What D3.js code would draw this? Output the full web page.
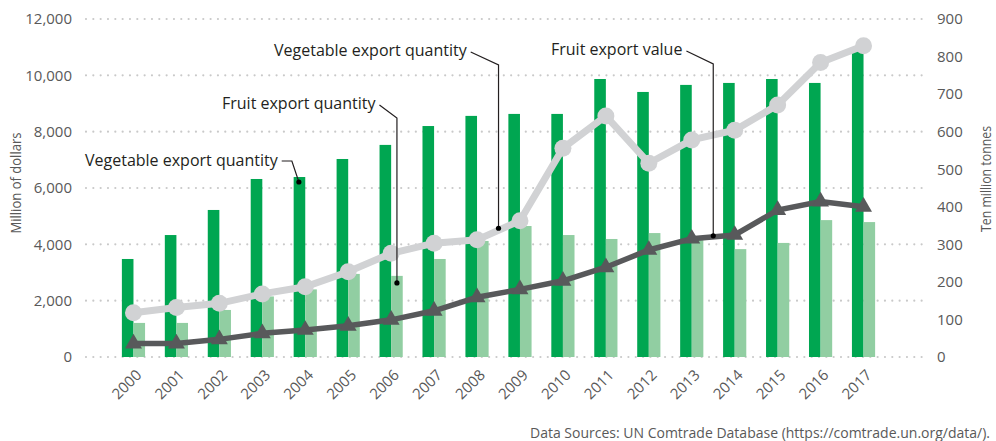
<html>
<head>
<meta charset="UTF-8" />
<style>
body { margin: 0; background: #fff; }
text { font-family: "Open Sans", sans-serif; }
</style>
</head>
<body>
<script src="https://cdn.jsdelivr.net/npm/d3@7"></script>
<script>
var width = 996;
var height = 441;

// data
var years = ["2000","2001","2002","2003","2004","2005","2006","2007","2008","2009",
             "2010","2011","2012","2013","2014","2015","2016","2017"];
var darkBars = [3480,4330,5220,6320,6390,7030,7530,8200,8560,8630,
                8630,9870,9410,9660,9730,9870,9730,10950];
var lightBars = [1210,1210,1670,2150,2400,2950,2880,3480,4120,4650,
                 4330,4190,4400,4150,3830,4050,4860,4790];
var grayLine = [118,132,143,168,187,227,276,303,312,363,
                556,642,516,578,604,671,784,829];
var darkLine = [36,36,47,63,72,83,99,123,159,180,
                203,239,285,315,325,391,414,400];
var leftTicks = [0,2000,4000,6000,8000,10000,12000];
var rightTicks = [0,100,200,300,400,500,600,700,800,900];

var notes = [
	{text:"Vegetable export quantity", year:"2004", series:"dark", tx:85, ty:160},
	{text:"Fruit export quantity", year:"2006", series:"light", tx:222, ty:103},
	{text:"Vegetable export quantity", year:"2008", series:"gray", tx:274, ty:50},
	{text:"Fruit export value", year:"2013", series:"line", tx:551, ty:49}
];

var svg = d3.select("body")
			.append("svg")
			.attr("width",width)
			.attr("height",height);

var x = d3.scaleBand()
		  .domain(years)
		  .range([112,885])
		  .paddingInner(0.46)
		  .paddingOuter(0.23);

var yLeft = d3.scaleLinear().domain([0,12000]).range([357,19]);
var yRight = d3.scaleLinear().domain([0,900]).range([357,19]);

var bw = x.bandwidth()/2;
var cx = d => x(d) + x.bandwidth()/2;

// dotted grid
svg.append("g")
   .selectAll("line")
   .data(leftTicks)
   .enter()
   .append("line")
   .attr("x1",86)
   .attr("x2",922)
   .attr("y1",d => yLeft(d))
   .attr("y2",d => yLeft(d))
   .attr("stroke","#c9c9c9")
   .attr("stroke-width",2.2)
   .attr("stroke-linecap","round")
   .attr("stroke-dasharray","0,7.33");

// left axis
var axL = svg.append("g")
			 .attr("transform","translate(72,0)")
			 .call(d3.axisLeft(yLeft).tickValues(leftTicks).tickSize(0).tickPadding(0).tickFormat(d3.format(",")));
axL.select(".domain").remove();
axL.selectAll("text").attr("font-size",15).attr("fill","#595959").attr("font-family","Open Sans");

// right axis
var axR = svg.append("g")
			 .attr("transform","translate(937,0)")
			 .call(d3.axisRight(yRight).tickValues(rightTicks).tickSize(0).tickPadding(0));
axR.select(".domain").remove();
axR.selectAll("text").attr("font-size",15).attr("fill","#595959").attr("font-family","Open Sans");

// x axis
var axX = svg.append("g")
			 .attr("transform","translate(0,361)")
			 .call(d3.axisBottom(x).tickSize(0).tickPadding(0));
axX.select(".domain").remove();
axX.selectAll("text")
   .attr("font-size",15)
   .attr("fill","#595959")
   .attr("font-family","Open Sans")
   .attr("text-anchor","end")
   .attr("dy",0)
   .attr("transform","translate(9,15) rotate(-45)");

// axis titles
svg.append("text")
   .attr("transform","translate(21,183) rotate(-90)")
   .attr("text-anchor","middle")
   .attr("font-size",14)
   .attr("textLength",101)
   .attr("lengthAdjust","spacingAndGlyphs")
   .attr("fill","#595959")
   .text("Million of dollars");

svg.append("text")
   .attr("transform","translate(991,179) rotate(-90)")
   .attr("text-anchor","middle")
   .attr("font-size",14)
   .attr("textLength",106)
   .attr("lengthAdjust","spacingAndGlyphs")
   .attr("fill","#595959")
   .text("Ten million tonnes");

// bars
svg.append("g")
   .selectAll("rect")
   .data(years)
   .enter()
   .append("rect")
   .attr("x",d => x(d))
   .attr("width",bw)
   .attr("y",(d,i) => yLeft(darkBars[i]))
   .attr("height",(d,i) => yLeft(0) - yLeft(darkBars[i]))
   .attr("fill","#00a651");

svg.append("g")
   .selectAll("rect")
   .data(years)
   .enter()
   .append("rect")
   .attr("x",d => x(d) + bw)
   .attr("width",bw)
   .attr("y",(d,i) => yLeft(lightBars[i]))
   .attr("height",(d,i) => yLeft(0) - yLeft(lightBars[i]))
   .attr("fill","#91cea2");

// light gray line with circles
var lineGen = d3.line()
				.x((d,i) => cx(years[i]))
				.y(d => yRight(d));

svg.append("path")
   .attr("d",lineGen(grayLine))
   .attr("fill","none")
   .attr("stroke","#d1d2d4")
   .attr("stroke-width",7);

svg.append("g")
   .selectAll("circle")
   .data(grayLine)
   .enter()
   .append("circle")
   .attr("cx",(d,i) => cx(years[i]))
   .attr("cy",d => yRight(d))
   .attr("r",8.5)
   .attr("fill","#d1d2d4");

// dark gray line with triangles
svg.append("path")
   .attr("d",lineGen(darkLine))
   .attr("fill","none")
   .attr("stroke","#58595b")
   .attr("stroke-width",5.5);

svg.append("g")
   .selectAll("path")
   .data(darkLine)
   .enter()
   .append("path")
   .attr("d",d3.symbol().type(d3.symbolTriangle).size(125))
   .attr("transform",(d,i) => "translate(" + cx(years[i]) + "," + yRight(d) + ")")
   .attr("fill","#58595b");

// annotations
function target(n){
	var i = years.indexOf(n.year);
	if(n.series == "dark") return [x(n.year) + bw*0.45, yLeft(darkBars[i]) + 5];
	if(n.series == "light") return [x(n.year) + bw*1.5, yLeft(lightBars[i]) + 7];
	if(n.series == "gray") return [cx(n.year) + 21.5, yRight((grayLine[i] + grayLine[i+1])/2) - 2];
	return [cx(n.year) + 21.5, yRight((darkLine[i] + darkLine[i+1])/2) - 1];
}

var ann = svg.append("g");
notes.forEach(function(n){
	var t = ann.append("text")
			   .attr("x",n.tx)
			   .attr("y",n.ty)
			   .attr("dy","0.35em")
			   .attr("font-size",16)
			   .attr("fill","#231f20")
			   .text(n.text);
	var w = t.node().getComputedTextLength();
	var p = target(n);
	var sx = n.tx + w + 4;
	var pts;
	if(n.series == "dark")
		pts = [[sx,n.ty+1],[p[0]-7,n.ty+1],p];
	else
		pts = [[sx,n.ty+2],[p[0],n.ty+15],p];
	ann.append("path")
	   .attr("d",d3.line()(pts))
	   .attr("fill","none")
	   .attr("stroke","#231f20")
	   .attr("stroke-width",1.2);
	ann.append("circle")
	   .attr("cx",p[0])
	   .attr("cy",p[1])
	   .attr("r",2.6)
	   .attr("fill","#000");
});

// source
svg.append("text")
   .attr("x",990)
   .attr("y",433)
   .attr("dy","0.35em")
   .attr("text-anchor","end")
   .attr("font-size",14)
   .attr("fill","#595959")
   .text("Data Sources: UN Comtrade Database (https://comtrade.un.org/data/).");
</script>
</body>
</html>
